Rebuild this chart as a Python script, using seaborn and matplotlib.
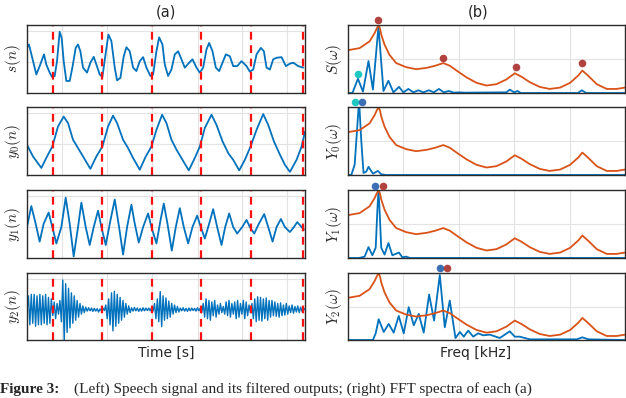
import numpy as np
import seaborn as sns
import matplotlib.pyplot as plt

sns.set_theme(style='whitegrid')
plt.rcParams['font.family'] = ['DejaVu Sans']
plt.rcParams['mathtext.fontset'] = 'cm'

# ---- left column: time signals (x = sample index) ----
n_s = [0, 6, 28, 38, 51, 58, 68, 75, 83, 90, 98, 104, 110, 118, 128, 136, 146, 153, 160, 168,
       180, 190, 200, 208, 218, 226, 234, 244, 253, 263, 270, 280, 290, 298, 308, 318, 328, 338,
       348, 358, 370, 378, 388, 396, 406, 413, 423, 433, 443, 453, 463, 473, 486, 496, 508, 518,
       528, 538, 546, 556, 566, 576, 586, 596, 608, 618, 630, 643, 658, 668, 678, 688, 701, 710,
       718, 728, 738, 748, 763, 776, 788, 798, 813, 828]
s_vals = [0.46, 0.57, -0.40, -0.13, 0.25, -0.08, -0.34, -0.48, -0.45, 0.03, 0.98, 0.78, 0.03,
          -0.61, -0.61, -0.18, 0.46, 0.57, 0.35, -0.18, -0.34, -0.02, 0.17, -0.08, -0.40, -0.48,
          0.14, 0.89, 0.68, -0.18, -0.59, -0.51, 0.19, 0.48, 0.35, -0.18, -0.29, 0.03, 0.16, -0.18,
          -0.45, -0.40, 0.35, 0.80, 0.57, -0.08, -0.45, -0.24, 0.25, 0.35, 0.09, -0.18, -0.02, 0.09,
          -0.18, -0.34, -0.18, 0.41, 0.62, 0.35, -0.18, -0.29, -0.02, 0.25, 0.19, -0.13, -0.13, 0.03,
          -0.13, -0.31, -0.24, 0.25, 0.46, 0.35, -0.18, -0.24, 0.09, 0.14, 0.16, -0.13, -0.05, -0.02,
          -0.13, -0.18]

n_y0 = [0, 18, 43, 63, 76, 93, 110, 123, 138, 153, 168, 190, 208, 226, 243, 258, 270, 288, 303,
        318, 338, 356, 373, 388, 405, 418, 433, 448, 466, 485, 503, 518, 533, 553, 568, 586, 603,
        618, 636, 653, 670, 688, 708, 723, 740, 758, 773, 788, 808, 823, 833]
y0_vals = [-0.02, -0.40, -0.77, -0.34, -0.08, 0.57, 0.89, 0.68, 0.14, -0.13, -0.40, -0.80, -0.40,
           -0.08, 0.57, 0.92, 0.68, 0.14, -0.13, -0.45, -0.83, -0.40, -0.08, 0.46, 0.95, 0.68, 0.14,
           -0.18, -0.51, -0.85, -0.45, -0.08, 0.52, 0.95, 0.62, 0.09, -0.29, -0.51, -0.85, -0.51,
           -0.08, 0.46, 0.97, 0.62, 0.09, -0.34, -0.67, -0.90, -0.51, -0.08, 0.40]

n_y1 = [0, 13, 26, 38, 50, 65, 76, 88, 103, 116, 128, 140, 153, 163, 176, 188, 200, 213, 223, 236,
        250, 263, 276, 288, 300, 313, 323, 335, 348, 363, 373, 388, 400, 410, 421, 434, 446, 458,
        470, 483, 496, 510, 521, 533, 546, 558, 570, 583, 594, 606, 618, 630, 645, 658, 668, 681,
        695, 711, 723, 736, 748, 761, 773, 788, 800, 810, 823, 830]
y1_vals = [0.0, 0.68, 0.11, -0.47, 0.11, 0.47, 0.0, -0.53, 0.0, 0.95, 0.11, -0.95, 0.0, 0.79, 0.0,
           -0.58, 0.0, 0.53, 0.0, -0.58, 0.21, 0.89, 0.0, -0.89, 0.0, 0.72, 0.11, -0.50, 0.0, 0.44,
           0.0, -0.53, 0.21, 0.76, 0.11, -0.76, 0.0, 0.61, 0.0, -0.53, 0.0, 0.37, 0.0, -0.37, 0.11,
           0.58, 0.0, -0.58, 0.0, 0.44, 0.0, -0.21, 0.0, 0.23, 0.0, -0.21, 0.11, 0.42, 0.0, -0.47,
           0.0, 0.26, 0.0, -0.16, 0.0, 0.16, 0.0, -0.08]

# y2: successive half-cycle extrema, evenly spaced over the frame
y2_vals = [0.0, 0.45, -0.5, 0.5, -0.45, 0.5, -0.55, 0.45, -0.5, 0.5, -0.5, 0.45, -0.45, 0.5, -0.5,
           0.4, -0.45, 0.35,
           -0.2, 0.25, -0.3, 0.2, -0.15, 0.3,
           -0.4, 0.97, -1.05, 0.85, -0.75,
           0.7, -0.6, 0.55, -0.45, 0.45, -0.35, 0.3, -0.25, 0.2, -0.15, 0.12, -0.1, 0.08,
           -0.05, 0.06, -0.04, 0.05, -0.06, 0.04, -0.05, 0.03, -0.08, 0.02, -0.04, 0.05, -0.03,
           0.15, -0.3, 0.35, -0.5, 0.55, -0.7,
           0.6, -0.55, 0.5, -0.45, 0.4, -0.35, 0.3, -0.25, 0.2, -0.15, 0.12, -0.1,
           0.06, -0.05, 0.07, -0.04, 0.05, -0.06, 0.04, -0.05, 0.06, -0.04, 0.05, -0.03, 0.05,
           -0.04, 0.06, -0.05,
           0.2, -0.3, 0.35, -0.4, 0.59, -0.56,
           0.45, -0.35, 0.38, -0.3, 0.28, -0.25, 0.2, -0.15, 0.15, -0.1, 0.1, -0.08,
           0.05, -0.04, 0.06, -0.05, 0.04, -0.06, 0.05, -0.04, 0.05, -0.03, 0.04, -0.05, 0.06,
           -0.04, 0.05,
           -0.1, 0.2, -0.25, 0.35, -0.3, 0.3, -0.35, 0.25, -0.2, 0.3, -0.25, 0.15, -0.15, 0.2,
           -0.1, 0.1,
           -0.15, 0.25, -0.2, 0.3, -0.25, 0.2, -0.15, 0.25, -0.3, 0.3, -0.25, 0.2, -0.15, 0.3,
           -0.3, 0.25, -0.2, 0.15, -0.1,
           0.2, -0.3, 0.35, -0.4, 0.42, -0.35, 0.4, -0.38, 0.35, -0.3, 0.38, -0.35, 0.3, -0.25,
           0.3, -0.2,
           0.25, -0.22, 0.2, -0.25, 0.22, -0.2, 0.15, -0.18, 0.2, -0.15, 0.12, -0.1, 0.15, -0.12,
           0.1, -0.08, 0.12, -0.1, 0.08, -0.06, 0.05, 0.0]

gci_n = [77, 226, 374, 522, 671, 827]          # red dashed markers
grid_n = [105, 240, 376, 513, 645, 780]
n_max = 833

# ---- right column: spectra (kHz) ----
f_env = [0, 0.21, 0.39, 0.48, 0.52, 0.554, 0.58, 0.60, 0.66, 0.75, 0.87, 1.05, 1.23, 1.42, 1.57,
         1.72, 1.84, 1.96, 2.14, 2.32, 2.50, 2.68, 2.86, 3.01, 3.13, 3.28, 3.46, 3.64, 3.83,
         4.01, 4.16, 4.23, 4.34, 4.49, 4.67, 4.85, 5.0]
env_vals = [0.63, 0.66, 0.76, 0.88, 0.95, 1.0, 0.94, 0.86, 0.71, 0.56, 0.44, 0.38, 0.35, 0.37,
            0.40, 0.44, 0.40, 0.33, 0.23, 0.15, 0.11, 0.13, 0.20, 0.29, 0.24, 0.16, 0.09, 0.06,
            0.08, 0.15, 0.26, 0.33, 0.25, 0.13, 0.06, 0.06, 0.08]

f_S = [0, 0.08, 0.18, 0.27, 0.37, 0.45, 0.55, 0.64, 0.73, 0.82, 0.92, 1.0, 1.09, 1.18, 1.27,
       1.36, 1.46, 1.55, 1.64, 1.73, 1.82, 1.91, 2.0, 2.1, 2.86, 2.92, 3.0, 3.06, 3.12, 4.15,
       4.22, 4.3, 5.0]
S_vals = [0, 0, 0.21, 0.02, 0.47, 0.05, 0.98, 0.03, 0.18, 0.01, 0.09, 0.01, 0.06, 0.01, 0.04,
          0.01, 0.04, 0.01, 0.06, 0.01, 0.03, 0.005, 0.01, 0.005, 0.01, 0.05, 0.01, 0.03, 0.0,
          0.0, 0.04, 0.0, 0.0]

f_Y0 = [0, 0.06, 0.12, 0.15, 0.2, 0.24, 0.28, 0.33, 0.37, 0.45, 0.54, 0.6, 0.69, 5.0]
Y0_vals = [0, 0, 0.15, 0.5, 1.1, 0.5, 0.03, 0.05, 0.12, 0.02, 0.06, 0.01, 0.0, 0.0]

f_Y1 = [0, 0.2, 0.3, 0.37, 0.44, 0.5, 0.53, 0.55, 0.57, 0.6, 0.66, 0.73, 0.8, 0.86, 0.92, 0.98,
        1.05, 1.12, 5.0]
Y1_vals = [0, 0, 0.02, 0.16, 0.04, 0.15, 0.7, 1.0, 0.7, 0.15, 0.05, 0.22, 0.04, 0.06, 0.08,
           0.01, 0.02, 0.0, 0.0]

f_Y2 = [0, 0.45, 0.5, 0.554, 0.645, 0.735, 0.825, 0.916, 1.006, 1.096, 1.187, 1.277, 1.367,
        1.464, 1.554, 1.657, 1.747, 1.837, 1.94, 2.02, 2.09, 2.17, 2.26, 2.35, 2.44, 2.56, 2.74,
        2.92, 3.01, 3.10, 3.28, 4.13, 4.23, 4.34, 5.0]
Y2_vals = [0, 0, 0.1, 0.31, 0.12, 0.24, 0.11, 0.36, 0.10, 0.49, 0.22, 0.39, 0.11, 0.68, 0.29,
           0.97, 0.19, 0.59, 0.03, 0.12, 0.05, 0.14, 0.05, 0.10, 0.07, 0.08, 0.03, 0.13, 0.05,
           0.05, 0.01, 0.01, 0.04, 0.01, 0.0]

# marker dots: (freq, height, colour)
dots = [
    [(0.55, 1.08, 'red'), (1.72, 0.52, 'red'), (3.04, 0.38, 'red'), (4.23, 0.44, 'red'),
     (0.18, 0.28, 'cyan')],
    [(0.12, 1.07, 'cyan'), (0.26, 1.07, 'blue')],
    [(0.49, 1.06, 'blue'), (0.63, 1.06, 'red')],
    [(1.657, 1.08, 'blue'), (1.79, 1.08, 'red')],
]
dot_colors = {'red': '#B0433F', 'blue': '#3B6FB3', 'cyan': '#1FC8C0'}

BLUE = '#0072BD'
ORANGE = '#D95319'

fig = plt.figure(figsize=(6.26, 3.98), dpi=100)
rows = [(0.7663, 0.1709), (0.5603, 0.1709), (0.3518, 0.1709), (0.1457, 0.1683)]

left_data = [(n_s, s_vals), (n_y0, y0_vals), (n_y1, y1_vals),
             (np.linspace(0, n_max, len(y2_vals)), y2_vals)]
left_labels = [r'$s(n)$', r'$y_0(n)$', r'$y_1(n)$', r'$y_2(n)$']
right_data = [(f_S, S_vals), (f_Y0, Y0_vals), (f_Y1, Y1_vals), (f_Y2, Y2_vals)]
right_labels = [r'$S(\omega)$', r'$Y_0(\omega)$', r'$Y_1(\omega)$', r'$Y_2(\omega)$']


def style(ax):
    ax.grid(True, color='#e3e3e3', lw=0.8)
    for sp in ax.spines.values():
        sp.set_visible(True)
        sp.set_color('#2b2b2b')
        sp.set_linewidth(1.0)
    ax.tick_params(length=0, labelbottom=False, labelleft=False)
    ax.set_facecolor('white')


for i, (bot, h) in enumerate(rows):
    # time panel
    ax = fig.add_axes([0.0431, bot, 0.444, h])
    x, y = left_data[i]
    sns.lineplot(x=x, y=y, ax=ax, color=BLUE, lw=1.0 if i == 3 else 1.3,
                 sort=False, estimator=None)
    for g in gci_n:
        ax.axvline(g, color='#FF1010', ls=(0, (3.5, 2.5)), lw=1.6)
    ax.set_xlim(0, n_max)
    ax.set_ylim(-1.0, 1.2)
    ax.set_xticks(grid_n)
    ax.set_yticks([0, 1])
    style(ax)
    ax.set_ylabel(left_labels[i], fontsize=11, labelpad=3)

    # spectrum panel
    ax = fig.add_axes([0.5559, bot, 0.4425, h])
    fx, fy = right_data[i]
    sns.lineplot(x=fx, y=fy, ax=ax, color=BLUE, lw=1.3, sort=False, estimator=None)
    sns.lineplot(x=f_env, y=env_vals, ax=ax, color=ORANGE, lw=1.3, sort=False, estimator=None)
    for fxd, fyd, c in dots[i]:
        ax.scatter([fxd], [fyd], s=30, color=dot_colors[c], clip_on=False, zorder=5, lw=0)
    ax.set_xlim(0, 5)
    ax.set_ylim(0, 1.0)
    ax.set_xticks([1, 2, 3, 4])
    ax.set_yticks([0.5, 1.0])
    style(ax)
    ax.set_ylabel(right_labels[i], fontsize=11, labelpad=3)

fig.text(0.265, 0.97, '(a)', ha='center', va='center', fontsize=10.5)
fig.text(0.764, 0.97, '(b)', ha='center', va='center', fontsize=10.5)
fig.text(0.265, 0.113, 'Time [s]', ha='center', va='center', fontsize=10)
fig.text(0.760, 0.113, 'Freq [kHz]', ha='center', va='center', fontsize=10)

# caption line below the panels
fig.text(0.0, 0.004, 'Figure 3:', ha='left', va='bottom', fontsize=11, fontweight='bold',
         family='Liberation Serif')
fig.text(0.118, 0.004, '(Left) Speech signal and its filtered outputs; (right) FFT spectra of each (a)',
         ha='left', va='bottom', fontsize=11, family='Liberation Serif')

fig.savefig('out.png', dpi=100)
